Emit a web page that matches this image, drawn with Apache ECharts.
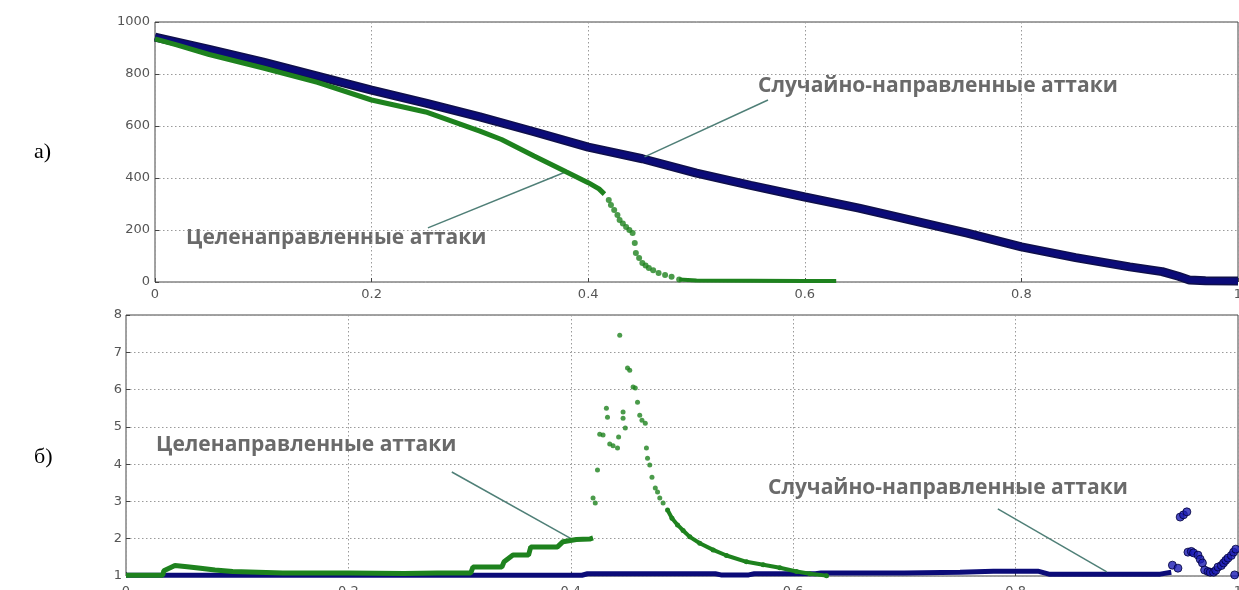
<!DOCTYPE html>
<html><head><meta charset="utf-8">
<script src="https://cdn.jsdelivr.net/npm/echarts@6/dist/echarts.min.js"></script>
<style>html,body{margin:0;padding:0;background:#fff}#c{width:1239px;height:590px}</style>
</head><body><div id="c"></div>
<script>
// ---- data (x = fraction of removed nodes) ----
const xTickLabels = ['0','0.2','0.4','0.6','0.8','1'];
const topYTicks = [0,200,400,600,800,1000];
const botYTicks = [1,2,3,4,5,6,7,8];

// panel a) — random attacks (blue)
const topRandom = [[0,942],[0.05,895],[0.1,846],[0.15,792],[0.2,738],[0.25,688],[0.3,635],[0.35,578],[0.4,519],[0.45,474],[0.5,419],[0.55,372],[0.6,327],[0.65,284],[0.7,236],[0.75,188],[0.8,135],[0.85,94],[0.9,58],[0.93,40],[0.945,22],[0.955,8],[0.97,5],[1.0,4]];
// panel a) — targeted attacks (green)
const topTargeted = [[0,935],[0.02,912],[0.05,875],[0.1,823],[0.15,768],[0.2,700],[0.25,654],[0.3,580],[0.32,548],[0.35,485],[0.38,423],[0.4,382],[0.41,358],[0.415,338]];
const topTargetedDrop = [[0.419,315],[0.421,296],[0.424,277],[0.427,258],[0.429,238],[0.432,225],[0.435,212],[0.438,200],[0.441,188],[0.443,150],[0.444,112],[0.447,92],[0.45,73],[0.453,63],[0.456,54],[0.46,45],[0.465,35],[0.471,27],[0.477,20],[0.484,10]];
const topTargetedTail = [[0.484,10],[0.5,6],[0.55,5],[0.6,4],[0.629,4]];

// panel б) — random attacks (blue band + scattered tail)
const botRandomBand = [[0,1.02],[0.1,1.02],[0.2,1.02],[0.3,1.02],[0.41,1.02],[0.415,1.06],[0.53,1.06],[0.535,1.03],[0.56,1.03],[0.565,1.06],[0.62,1.06],[0.625,1.08],[0.7,1.08],[0.75,1.1],[0.78,1.13],[0.82,1.13],[0.83,1.05],[0.93,1.05],[0.94,1.1]];
const botRandomTail = [[0.941,1.29],[0.946,1.21],[0.948,2.58],[0.951,2.64],[0.954,2.72],[0.955,1.64],[0.958,1.66],[0.96,1.62],[0.964,1.56],[0.966,1.45],[0.968,1.35],[0.97,1.16],[0.973,1.12],[0.975,1.1],[0.978,1.1],[0.98,1.15],[0.982,1.24],[0.985,1.28],[0.987,1.35],[0.989,1.42],[0.991,1.48],[0.994,1.55],[0.996,1.64],[0.998,1.72],[0.997,1.03]];

// panel б) — targeted attacks (green)
const botTargetedRise = [[0,1.02],[0.033,1.02],[0.034,1.14],[0.044,1.28],[0.055,1.25],[0.067,1.21],[0.08,1.16],[0.096,1.12],[0.141,1.08],[0.2,1.08],[0.25,1.07],[0.28,1.08],[0.31,1.08],[0.312,1.24],[0.338,1.24],[0.34,1.38],[0.348,1.56],[0.362,1.56],[0.364,1.78],[0.388,1.78],[0.393,1.92],[0.405,1.98],[0.417,1.99],[0.42,2.02]];
const botTargetedPeak = [[0.42,3.09],[0.422,2.96],[0.424,3.84],[0.426,4.8],[0.429,4.78],[0.432,5.5],[0.433,5.26],[0.435,4.54],[0.438,4.49],[0.442,4.43],[0.443,4.73],[0.444,7.46],[0.447,5.4],[0.447,5.23],[0.449,4.97],[0.451,6.58],[0.453,6.52],[0.456,6.07],[0.458,6.04],[0.46,5.66],[0.462,5.31],[0.464,5.18],[0.467,5.1],[0.468,4.43],[0.469,4.16],[0.471,3.98],[0.473,3.65],[0.476,3.36],[0.478,3.25],[0.48,3.09],[0.483,2.96]];
const botTargetedDecay = [[0.487,2.77],[0.491,2.55],[0.496,2.37],[0.501,2.22],[0.507,2.05],[0.516,1.88],[0.528,1.7],[0.54,1.55],[0.558,1.38],[0.573,1.3],[0.588,1.22],[0.603,1.12],[0.615,1.06],[0.63,1.01]];

// annotation leader lines (data coordinates)
const topTargetedLeader = [[0.252,208],[0.379,423]];
const topRandomLeader = [[0.452,481],[0.566,700]];
const botTargetedLeader = [[0.293,3.79],[0.401,1.99]];
const botRandomLeader = [[0.784,2.80],[0.882,1.11]];

const labelTargeted = 'Целенаправленные аттаки';
const labelRandom = 'Случайно-направленные аттаки';

// ---- styles ----
const BLUE = '#0b0b78';
const GREEN = '#1e821e';
const LEADER = '#4f7f77';
const tickFont = {color:'#555', fontSize:13, fontFamily:'DejaVu Sans'};
const split = {show:true, lineStyle:{color:'#9a9a9a', type:[1.5,2.5], width:1}};
const annFont = 'bold 21px "Open Sans"';

function xAxis(gi, margin){
  return {type:'value', gridIndex:gi, min:0, max:1, interval:0.2,
    axisLine:{show:false}, axisTick:{show:true, inside:true, length:4, lineStyle:{color:'#444'}},
    axisLabel:Object.assign({margin:margin, formatter:v=>xTickLabels[Math.round(v*5)]}, tickFont),
    splitLine:split};
}
function leader(pts){
  return {silent:true, symbol:'none', animation:false, label:{show:false},
    lineStyle:{color:LEADER, width:1.5, type:'solid'},
    data:[[{coord:pts[0]},{coord:pts[1]}]]};
}

const chart = echarts.init(document.getElementById('c'), null, {renderer:'canvas'});
chart.setOption({
  animation:false,
  backgroundColor:'#fff',
  grid:[
    {left:155, top:22, width:1083, height:260, show:true, borderColor:'#444', borderWidth:1, backgroundColor:'transparent', outerBoundsMode:'none', containLabel:false},
    {left:126, top:315, width:1112, height:261, show:true, borderColor:'#444', borderWidth:1, backgroundColor:'transparent', outerBoundsMode:'none', containLabel:false}
  ],
  xAxis:[xAxis(0,6), xAxis(1,9)],
  yAxis:[
    {type:'value', gridIndex:0, min:topYTicks[0], max:topYTicks[topYTicks.length-1], interval:200,
     axisLine:{show:false}, axisTick:{show:true, inside:true, length:4, lineStyle:{color:'#444'}},
     axisLabel:Object.assign({margin:5, formatter:v=>String(v)}, tickFont), splitLine:split},
    {type:'value', gridIndex:1, min:botYTicks[0], max:botYTicks[botYTicks.length-1], interval:1,
     axisLine:{show:false}, axisTick:{show:true, inside:true, length:4, lineStyle:{color:'#444'}},
     axisLabel:Object.assign({margin:4, formatter:v=>String(v)}, tickFont), splitLine:split}
  ],
  series:[
    {type:'line', xAxisIndex:0, yAxisIndex:0, data:topRandom, showSymbol:false, z:3,
     lineStyle:{color:'#10104a', width:9}},
    {type:'line', xAxisIndex:0, yAxisIndex:0, data:topRandom, showSymbol:false, z:4,
     lineStyle:{color:BLUE, width:6}, markLine:leader(topRandomLeader)},
    {type:'line', xAxisIndex:0, yAxisIndex:0, data:topTargeted, showSymbol:false, z:5,
     lineStyle:{color:GREEN, width:5}, markLine:leader(topTargetedLeader)},
    {type:'scatter', xAxisIndex:0, yAxisIndex:0, data:topTargetedDrop, symbolSize:6, z:5,
     itemStyle:{color:GREEN}},
    {type:'line', xAxisIndex:0, yAxisIndex:0, data:topTargetedTail, showSymbol:false, z:5,
     lineStyle:{color:GREEN, width:4}},

    {type:'line', xAxisIndex:1, yAxisIndex:1, data:botRandomBand, showSymbol:false, z:3,
     lineStyle:{color:BLUE, width:5}, markLine:leader(botRandomLeader)},
    {type:'scatter', xAxisIndex:1, yAxisIndex:1, data:botRandomTail, symbolSize:8, z:4, clip:false,
     itemStyle:{color:'#1c1cb4', borderColor:'#00003a', borderWidth:1}},
    {type:'line', xAxisIndex:1, yAxisIndex:1, data:botTargetedRise, showSymbol:false, z:5,
     lineStyle:{color:GREEN, width:5}, markLine:leader(botTargetedLeader)},
    {type:'scatter', xAxisIndex:1, yAxisIndex:1, data:botTargetedPeak, symbolSize:5, z:5,
     itemStyle:{color:GREEN}},
    {type:'line', xAxisIndex:1, yAxisIndex:1, data:botTargetedDecay, showSymbol:true, symbol:'circle', symbolSize:5, z:5,
     itemStyle:{color:GREEN}, lineStyle:{color:GREEN, width:4}}
  ],
  graphic:[
    {type:'text', left:34, top:141, style:{text:'а)', font:'22px "Liberation Serif"', fill:'#000'}},
    {type:'text', left:34, top:446, style:{text:'б)', font:'22px "Liberation Serif"', fill:'#000'}},
    {type:'text', left:186, top:228, style:{text:labelTargeted, font:annFont, fill:'#6a6a6a'}},
    {type:'text', left:758, top:76, style:{text:labelRandom, font:annFont, fill:'#6a6a6a'}},
    {type:'text', left:156, top:435, style:{text:labelTargeted, font:annFont, fill:'#6a6a6a'}},
    {type:'text', left:768, top:478, style:{text:labelRandom, font:annFont, fill:'#6a6a6a'}}
  ]
});
</script></body></html>
